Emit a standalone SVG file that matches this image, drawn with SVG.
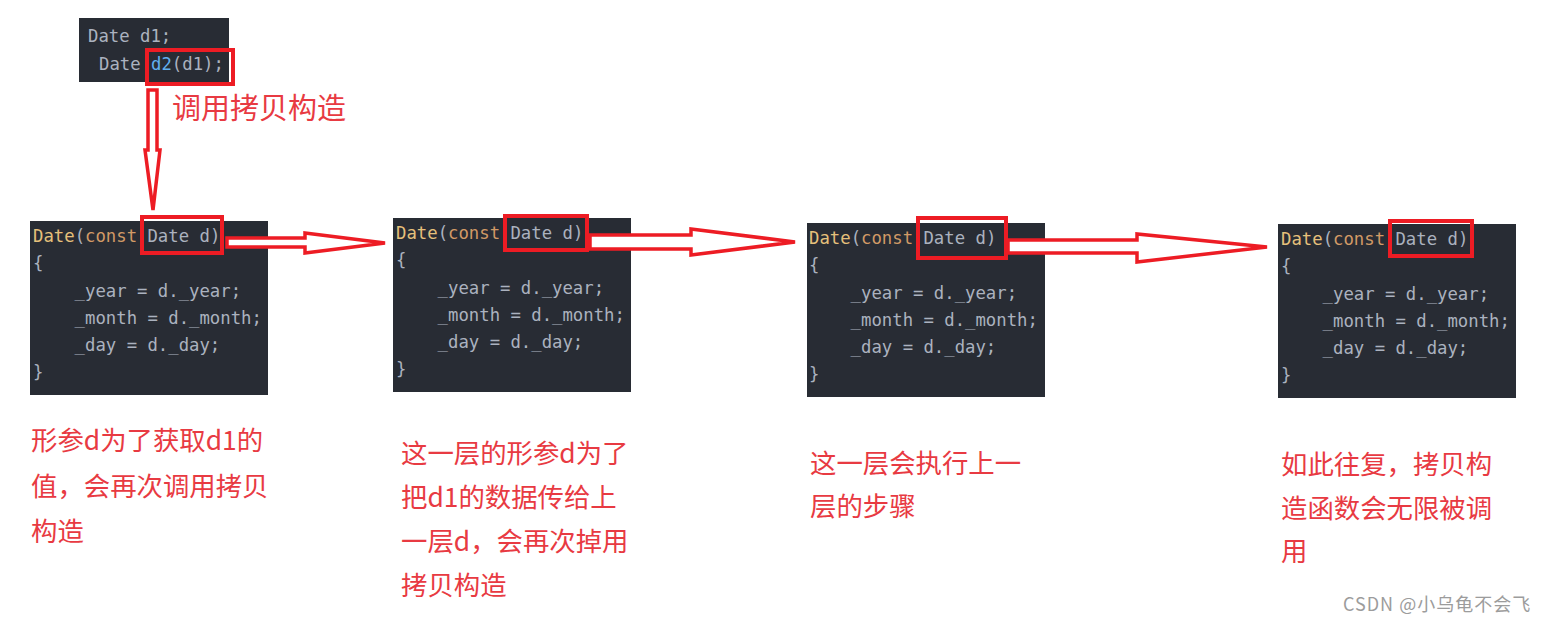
<svg xmlns="http://www.w3.org/2000/svg" width="1549" height="623" viewBox="0 0 1549 623">
<style>
.bg{fill:#282c34}
.code{font-family:"DejaVu Sans Mono","Liberation Mono",monospace;font-size:17.3px;fill:#abb2bf;white-space:pre}
.kw{fill:#e5c07b}
.cn{fill:#d19a66}
.fn{fill:#61afef}
.hl{fill:none;stroke:#ed1c24;stroke-width:4}
.arr{fill:#ffffff;stroke:#ed1c24;stroke-width:3.5;stroke-linejoin:miter}
.lbl{font-family:"Noto Sans CJK SC","Noto Sans",sans-serif;font-size:26.4px;fill:#e83a42}
.wm{font-family:"Noto Sans CJK SC","Noto Sans",sans-serif;font-size:18px;letter-spacing:1px;fill:#9c9c9c}
</style>
<rect width="1549" height="623" fill="#ffffff"/>

<g id="top-code">
<rect class="bg" x="79" y="18" width="150" height="64"/>
<text class="code" x="88" y="42">Date d1;</text>
<text class="code" x="99" y="70">Date <tspan class="fn">d2</tspan>(d1);</text>
<rect class="hl" x="147" y="50" width="86" height="34"/>
</g>

<g id="label-call">
<text class="lbl" x="172" y="119" style="font-size:29px">调用拷贝构造</text>
</g>

<g id="box1">
<rect class="bg" x="30" y="221" width="238" height="174"/>
<text class="code" x="33" y="242"><tspan class="kw">Date</tspan>(<tspan class="cn">const</tspan> Date d)</text>
<text class="code" x="33" y="269">{</text>
<text class="code" x="33" y="297">    _year = d._year;</text>
<text class="code" x="33" y="324">    _month = d._month;</text>
<text class="code" x="33" y="351">    _day = d._day;</text>
<text class="code" x="33" y="378">}</text>
<rect class="hl" x="142" y="217" width="80" height="36"/>
</g>

<g id="box2">
<rect class="bg" x="393" y="218" width="238" height="174"/>
<text class="code" x="396" y="239"><tspan class="kw">Date</tspan>(<tspan class="cn">const</tspan> Date d)</text>
<text class="code" x="396" y="266">{</text>
<text class="code" x="396" y="294">    _year = d._year;</text>
<text class="code" x="396" y="321">    _month = d._month;</text>
<text class="code" x="396" y="348">    _day = d._day;</text>
<text class="code" x="396" y="375">}</text>
<rect class="hl" x="505" y="216" width="82" height="34"/>
</g>

<g id="box3">
<rect class="bg" x="807" y="223" width="238" height="174"/>
<text class="code" x="809" y="244"><tspan class="kw">Date</tspan>(<tspan class="cn">const</tspan> Date d)</text>
<text class="code" x="809" y="271">{</text>
<text class="code" x="809" y="299">    _year = d._year;</text>
<text class="code" x="809" y="326">    _month = d._month;</text>
<text class="code" x="809" y="353">    _day = d._day;</text>
<text class="code" x="809" y="380">}</text>
<rect class="hl" x="918" y="218" width="88" height="40"/>
</g>

<g id="box4">
<rect class="bg" x="1278" y="224" width="238" height="174"/>
<text class="code" x="1281" y="245"><tspan class="kw">Date</tspan>(<tspan class="cn">const</tspan> Date d)</text>
<text class="code" x="1281" y="272">{</text>
<text class="code" x="1281" y="300">    _year = d._year;</text>
<text class="code" x="1281" y="327">    _month = d._month;</text>
<text class="code" x="1281" y="354">    _day = d._day;</text>
<text class="code" x="1281" y="381">}</text>
<rect class="hl" x="1390" y="221" width="82" height="35"/>
</g>

<g id="connectors">
<polygon class="arr" points="148,90 157,90 157,150 160,150 153,210 145,150 148,150"/>
<polygon class="arr" points="227,238 305,238 305,233 385,243 305,253 305,247 227,247"/>
<polygon class="arr" points="590,235 691,235 691,229 795,242 691,255 691,249 590,249"/>
<polygon class="arr" points="1008,240 1137,240 1137,234 1267,247 1137,262 1137,253 1008,253"/>
</g>

<g id="label1">
<text class="lbl" x="31" y="450">形参d为了获取d1的</text>
<text class="lbl" x="31" y="496">值，会再次调用拷贝</text>
<text class="lbl" x="31" y="541">构造</text>
</g>

<g id="label2">
<text class="lbl" x="401" y="463">这一层的形参d为了</text>
<text class="lbl" x="401" y="507">把d1的数据传给上</text>
<text class="lbl" x="401" y="551">一层d，会再次掉用</text>
<text class="lbl" x="401" y="595">拷贝构造</text>
</g>

<g id="label3">
<text class="lbl" x="810" y="473">这一层会执行上一</text>
<text class="lbl" x="810" y="516">层的步骤</text>
</g>

<g id="label4">
<text class="lbl" x="1281" y="474">如此往复，拷贝构</text>
<text class="lbl" x="1281" y="518">造函数会无限被调</text>
<text class="lbl" x="1281" y="561">用</text>
</g>

<g id="watermark">
<text class="wm" x="1343" y="611">CSDN @小乌龟不会飞</text>
</g>
</svg>
